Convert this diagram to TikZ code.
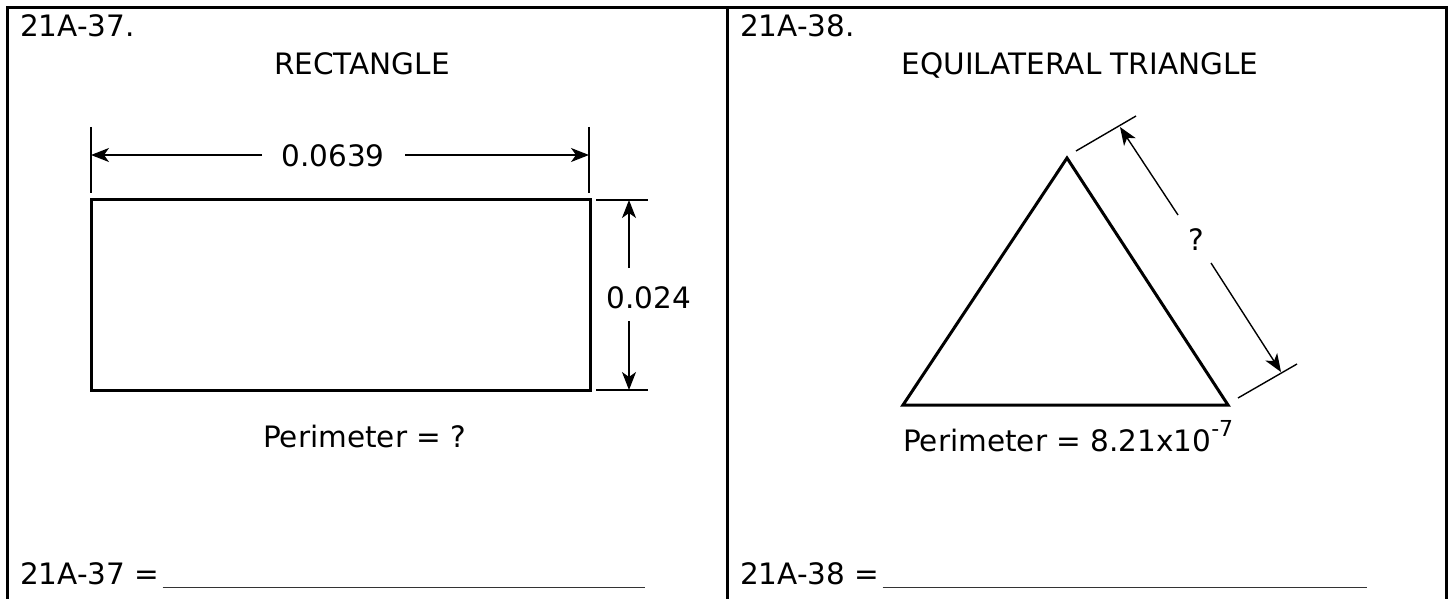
\documentclass[tikz,border=0pt]{standalone}
\usepackage{fontspec}
\setmainfont{DejaVu Sans}
\usetikzlibrary{arrows.meta}
\begin{document}
\begin{tikzpicture}[x=1pt,y=-1pt,
  txt/.style={font=\fontsize{29.5}{35}\selectfont, inner sep=0pt},
  frameline/.style={line width=3pt},
  shapeline/.style={line width=3pt, line join=miter},
  dimline/.style={line width=1.4pt},
  dimarrow/.style={line width=1.4pt, -{Stealth[length=18pt,width=14pt,inset=5pt]}},
]
\useasboundingbox (0,0) rectangle (1452,599);
% frame
\coordinate (fL0) at (7,599);
\coordinate (fL1) at (7,8);
\coordinate (fR1) at (1446,8);
\coordinate (fR0) at (1446,599);
\coordinate (fM1) at (727,8);
\coordinate (fM0) at (727,599);
\draw[frameline] (fL0) -- (fL1) -- (fR1) -- (fR0);
\draw[frameline] (fM1) -- (fM0);

% ---------- left panel ----------
\node[txt, anchor=base west] (l37) at (20,37) {21A-37.};
\node[txt, anchor=base] (rtitle) at (362,75) {RECTANGLE};
\coordinate (rA) at (91,200);
\coordinate (rC) at (590,390);
\draw[shapeline] (rA) rectangle (rC);
% horizontal dimension
\coordinate (h1a) at (91,127); \coordinate (h1b) at (91,193);
\coordinate (h2a) at (589,127); \coordinate (h2b) at (589,193);
\draw[dimline] (h1a) -- (h1b);
\draw[dimline] (h2a) -- (h2b);
\node[txt] (d1) at (333,156) {0.0639};
\coordinate (d1L) at (262,155); \coordinate (d1R) at (405,155);
\coordinate (e1) at (91,155); \coordinate (e2) at (589,155);
\draw[dimarrow] (d1L) -- (e1);
\draw[dimarrow] (d1R) -- (e2);
% vertical dimension
\coordinate (v1a) at (596,200); \coordinate (v1b) at (648,200);
\coordinate (v2a) at (596,390); \coordinate (v2b) at (648,390);
\draw[dimline] (v1a) -- (v1b);
\draw[dimline] (v2a) -- (v2b);
\node[txt] (d2) at (649,298) {0.024};
\coordinate (d2T) at (629,268); \coordinate (d2B) at (629,321);
\coordinate (e3) at (629,200); \coordinate (e4) at (629,390);
\draw[dimarrow] (d2T) -- (e3);
\draw[dimarrow] (d2B) -- (e4);
\node[txt, anchor=base west] (lper) at (263,447) {Perimeter = ?};
\node[txt, anchor=base west] (lans) at (20,584) {21A-37 =\hspace{3pt}\textcolor{black!80}{\rule[-4pt]{482pt}{1.5pt}}};

% ---------- right panel ----------
\node[txt, anchor=base west] (r38) at (740,37) {21A-38.};
\node[txt, anchor=base] (ttitle) at (1080,75) {EQUILATERAL TRIANGLE};
\coordinate (tA) at (903,405);
\coordinate (tB) at (1228,405);
\coordinate (tC) at (1067,158);
\draw[shapeline] (tA) -- (tB) -- (tC) -- cycle;
% slanted dimension
\coordinate (s1a) at (1076,151); \coordinate (s1b) at (1136,116);
\coordinate (s2a) at (1238,398); \coordinate (s2b) at (1297,364);
\draw[dimline] (s1a) -- (s1b);
\draw[dimline] (s2a) -- (s2b);
\node[txt] (q) at (1196,240) {?};
\coordinate (qT) at (1178,215); \coordinate (qB) at (1211,263);
\coordinate (a1) at (1120,127); \coordinate (a2) at (1281,372);
\draw[dimarrow] (qT) -- (a1);
\draw[dimarrow] (qB) -- (a2);
\node[txt, anchor=base west] (rper) at (903,451) {Perimeter = 8.21x10\raisebox{0.5em}{\fontsize{22}{22}\selectfont -7}};
\node[txt, anchor=base west] (rans) at (740,584) {21A-38 =\hspace{3pt}\textcolor{black!80}{\rule[-4pt]{484pt}{1.5pt}}};
\end{tikzpicture}
\end{document}
